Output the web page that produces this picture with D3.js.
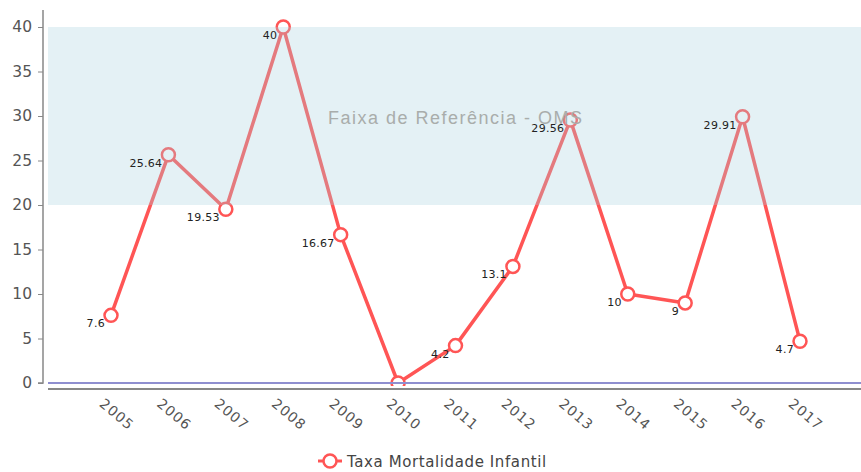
<!DOCTYPE html>
<html>
<head>
<meta charset="utf-8">
<script src="https://cdn.jsdelivr.net/npm/d3@7"></script>
<style>
  body { margin: 0; background: #fff; }
</style>
</head>
<body>
<div id="chart"></div>
<script>
// dados
const anos = ['2005','2006','2007','2008','2009','2010','2011','2012','2013','2014','2015','2016','2017'];
const taxa = [7.6, 25.64, 19.53, 40, 16.67, 0, 4.2, 13.1, 29.56, 10, 9, 29.91, 4.7];
const yTicks = [0, 5, 10, 15, 20, 25, 30, 35, 40];
const faixa = [20, 40];   // faixa de referência OMS
const serieNome = 'Taxa Mortalidade Infantil';
const faixaNome = 'Faixa de Referência - OMS';

const W = 861, H = 472;
const svg = d3.select('#chart').append('svg')
  .attr('width', W).attr('height', H);

const x = d3.scalePoint().domain(anos).range([111, 800]);
const y = d3.scaleLinear().domain([0, 40]).range([383, 27]);

// área do gráfico (corta o que passa do eixo)
svg.append('clipPath').attr('id', 'plot')
  .append('rect').attr('x', 44).attr('y', 0).attr('width', W).attr('height', 386);

const plot = svg.append('g').attr('clip-path', 'url(#plot)');

// linha da série
plot.append('path')
  .datum(taxa)
  .attr('fill', 'none')
  .attr('stroke', '#ff5555')
  .attr('stroke-width', 3.5)
  .attr('stroke-linejoin', 'round')
  .attr('d', d3.line().x((d, i) => x(anos[i])).y(d => y(d)));

// pontos
plot.append('g').selectAll('circle')
  .data(taxa)
  .join('circle')
    .attr('cx', (d, i) => x(anos[i]))
    .attr('cy', d => y(d))
    .attr('r', 6.5)
    .attr('fill', '#fff')
    .attr('stroke', '#ff5555')
    .attr('stroke-width', 2.5);

// faixa semi-transparente por cima
svg.append('rect')
  .attr('x', 48).attr('width', W - 48)
  .attr('y', y(faixa[1])).attr('height', y(faixa[0]) - y(faixa[1]))
  .attr('fill', '#a5d0de')
  .attr('fill-opacity', 0.3);

svg.append('text')
  .attr('x', 328).attr('y', 124)
  .attr('font-family', 'Liberation Sans, Arial, sans-serif')
  .attr('font-size', 18)
  .attr('letter-spacing', 1.5)
  .attr('fill', '#a9adab')
  .text(faixaNome);

// rótulos de valor (o zero não aparece)
svg.append('g').selectAll('text')
  .data(taxa.map((v, i) => ({v, ano: anos[i]})).filter(d => d.v !== 0))
  .join('text')
    .attr('x', d => x(d.ano) - 6)
    .attr('y', d => y(d.v) + 12)
    .attr('text-anchor', 'end')
    .attr('font-family', 'DejaVu Sans, sans-serif')
    .attr('font-size', 11)
    .attr('letter-spacing', 0.3)
    .attr('fill', '#222')
    .text(d => d.v);

// linha do zero
svg.append('line')
  .attr('x1', 48).attr('x2', W)
  .attr('y1', y(0)).attr('y2', y(0))
  .attr('stroke', '#8f8fd0')
  .attr('stroke-width', 2);

// eixo y
const yAxis = svg.append('g')
  .attr('transform', 'translate(43,0)')
  .call(d3.axisLeft(y).tickValues(yTicks).tickSize(5).tickPadding(6));
yAxis.select('.domain').attr('d', `M-5,${y(0)}H0V10`).attr('stroke', '#888').attr('stroke-width', 1.5);
yAxis.selectAll('.tick line').attr('stroke', '#888');
yAxis.selectAll('text')
  .attr('font-family', 'DejaVu Sans, sans-serif')
  .attr('font-size', 15.5)
  .attr('fill', '#555');

// eixo x
const xAxis = svg.append('g')
  .attr('transform', 'translate(0,389)')
  .call(d3.axisBottom(x).tickSize(0));
xAxis.select('.domain').attr('d', `M48,0H${W}`).attr('stroke', '#888').attr('stroke-width', 2);
xAxis.selectAll('text')
  .attr('font-family', 'DejaVu Sans, sans-serif')
  .attr('font-size', 14)
  .attr('letter-spacing', 1)
  .attr('fill', '#555')
  .attr('text-anchor', 'start')
  .attr('dy', 0)
  .attr('transform', 'translate(-11,14) rotate(40)');

// legenda
const leg = svg.append('g').attr('transform', 'translate(330,461)');
leg.append('line').attr('x1', -12).attr('x2', 12)
  .attr('stroke', '#ff5555').attr('stroke-width', 3);
leg.append('circle').attr('r', 6.5)
  .attr('fill', '#fff').attr('stroke', '#ff5555').attr('stroke-width', 2.5);
leg.append('text')
  .attr('x', 17).attr('y', 6)
  .attr('font-family', 'DejaVu Sans, sans-serif')
  .attr('font-size', 15)
  .attr('letter-spacing', 0.6)
  .attr('fill', '#444')
  .text(serieNome);
</script>
</body>
</html>
